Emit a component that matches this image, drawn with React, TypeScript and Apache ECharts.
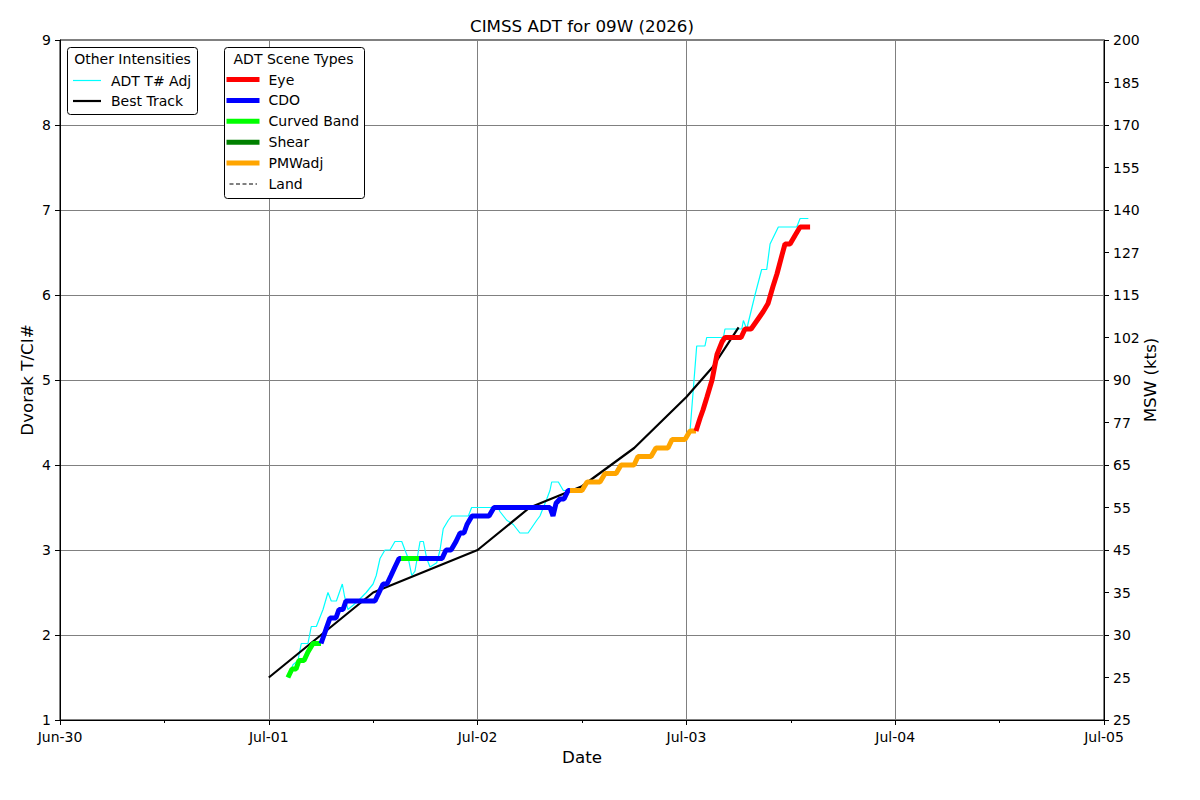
import React, { useEffect, useRef } from "react";
import * as echarts from "echarts";

// ---------- axis / tick data ----------
const DAY = 86400000;
const X_MIN = Date.UTC(2026, 5, 30);
const X_MAX = Date.UTC(2026, 6, 5);
const xTickLabels = ["Jun-30", "Jul-01", "Jul-02", "Jul-03", "Jul-04", "Jul-05"];
const mswTickValues = [1, 1.5, 2, 2.5, 3, 3.5, 4, 4.5, 5, 5.5, 6, 6.5, 7, 7.5, 8, 8.5, 9];
const mswTickLabels = ["25", "25", "30", "35", "45", "55", "65", "77", "90", "102", "115", "127", "140", "155", "170", "185", "200"];

// ---------- best track ----------
const btTimes = ["07-01 00:00", "07-01 06:00", "07-01 12:00", "07-01 18:00", "07-02 00:00", "07-02 06:00", "07-02 12:00", "07-02 18:00", "07-03 00:00", "07-03 03:00", "07-03 06:00"];
const btValues = [1.5, 2.0, 2.5, 2.75, 3.0, 3.5, 3.75, 4.2, 4.8, 5.15, 5.62];

// ---------- ADT final CI# with scene types ----------
const adtTimes = [
  "07-01 02:12", "07-01 02:40", "07-01 03:08", "07-01 03:28", "07-01 04:03", "07-01 04:30", "07-01 05:05", "07-01 05:39",
  "07-01 06:00", "07-01 06:21", "07-01 06:41", "07-01 07:02", "07-01 07:43", "07-01 08:04", "07-01 08:32", "07-01 08:52",
  "07-01 12:12", "07-01 12:40", "07-01 13:08", "07-01 13:35", "07-01 14:03", "07-01 14:30", "07-01 14:58",
  "07-01 15:12",
  "07-01 17:16", "07-01 19:55", "07-01 20:22", "07-01 20:57", "07-01 21:31", "07-01 21:59", "07-01 22:26", "07-01 22:47",
  "07-01 23:21", "07-02 01:19", "07-02 01:53", "07-02 08:19", "07-02 08:40", "07-02 09:01", "07-02 09:28", "07-02 09:56", "07-02 10:24",
  "07-02 10:37", "07-02 12:00", "07-02 12:35", "07-02 14:04", "07-02 14:39", "07-02 15:55", "07-02 16:29", "07-02 17:59",
  "07-02 18:26", "07-02 19:56", "07-02 20:30", "07-02 21:53", "07-02 22:21", "07-02 23:50", "07-03 00:25",
  "07-03 01:06", "07-03 01:34", "07-03 01:55", "07-03 02:22", "07-03 02:57", "07-03 03:31", "07-03 04:06", "07-03 04:26",
  "07-03 06:17", "07-03 06:44", "07-03 07:26", "07-03 08:07", "07-03 08:48", "07-03 09:23", "07-03 09:57", "07-03 10:25",
  "07-03 10:59", "07-03 11:20", "07-03 11:55", "07-03 12:29", "07-03 13:04", "07-03 14:13",
];
const adtValues = [
  1.5, 1.6, 1.6, 1.7, 1.7, 1.8, 1.9, 1.9,
  1.9, 2.0, 2.1, 2.2, 2.2, 2.3, 2.3, 2.4,
  2.4, 2.5, 2.6, 2.6, 2.7, 2.8, 2.9,
  2.9,
  2.9, 2.9, 3.0, 3.0, 3.1, 3.2, 3.2, 3.3,
  3.4, 3.4, 3.5, 3.5, 3.4, 3.55, 3.6, 3.6, 3.7,
  3.7, 3.7, 3.8, 3.8, 3.9, 3.9, 4.0, 4.0,
  4.1, 4.1, 4.2, 4.2, 4.3, 4.3, 4.4,
  4.4, 4.55, 4.65, 4.8, 5.0, 5.3, 5.45, 5.5,
  5.5, 5.6, 5.6, 5.7, 5.8, 5.9, 6.1, 6.25,
  6.47, 6.6, 6.6, 6.7, 6.8, 6.8,
];
const adtScenes = [
  "CB", "CB", "CB", "CB", "CB", "CB", "CB", "CB",
  "CDO", "CDO", "CDO", "CDO", "CDO", "CDO", "CDO", "CDO",
  "CDO", "CDO", "CDO", "CDO", "CDO", "CDO", "CDO",
  "CB",
  "CDO", "CDO", "CDO", "CDO", "CDO", "CDO", "CDO", "CDO",
  "CDO", "CDO", "CDO", "CDO", "CDO", "CDO", "CDO", "CDO", "CDO",
  "PMW", "PMW", "PMW", "PMW", "PMW", "PMW", "PMW", "PMW",
  "PMW", "PMW", "PMW", "PMW", "PMW", "PMW", "PMW",
  "EYE", "EYE", "EYE", "EYE", "EYE", "EYE", "EYE", "EYE",
  "EYE", "EYE", "EYE", "EYE", "EYE", "EYE", "EYE", "EYE",
  "EYE", "EYE", "EYE", "EYE", "EYE", "EYE",
];

// ---------- ADT T# Adj ----------
const tAdjTimes = [
  "07-01 02:12", "07-01 02:47", "07-01 03:21", "07-01 03:44", "07-01 04:30", "07-01 04:53", "07-01 05:28", "07-01 05:51",
  "07-01 06:14", "07-01 06:48", "07-01 07:11", "07-01 07:46", "07-01 08:27", "07-01 08:43", "07-01 09:06", "07-01 09:41",
  "07-01 10:15", "07-01 11:12", "07-01 11:59", "07-01 12:21", "07-01 12:47", "07-01 13:21", "07-01 13:56", "07-01 14:30",
  "07-01 15:17", "07-01 15:39", "07-01 16:02", "07-01 16:26", "07-01 16:48", "07-01 17:23", "07-01 17:46", "07-01 18:09",
  "07-01 18:32", "07-01 19:18", "07-01 19:41", "07-01 20:03", "07-01 20:38", "07-01 21:01", "07-01 22:56", "07-01 23:19",
  "07-02 02:21", "07-02 02:35", "07-02 03:21", "07-02 04:06", "07-02 04:52", "07-02 05:48", "07-02 06:48", "07-02 07:10",
  "07-02 07:57", "07-02 08:19", "07-02 08:31", "07-02 09:17", "07-02 09:51", "07-02 10:37",
  "07-02 12:00", "07-02 12:35", "07-02 14:04", "07-02 14:39", "07-02 15:55", "07-02 16:29", "07-02 17:59",
  "07-02 18:26", "07-02 19:56", "07-02 20:30", "07-02 21:53", "07-02 22:21", "07-02 23:50", "07-03 00:25",
  "07-03 01:11", "07-03 02:08", "07-03 02:20", "07-03 04:15", "07-03 04:26", "07-03 06:22", "07-03 06:33", "07-03 06:56",
  "07-03 07:53", "07-03 08:39", "07-03 09:14", "07-03 09:37", "07-03 10:34", "07-03 12:41", "07-03 13:04", "07-03 14:01",
];
const tAdjValues = [
  1.5, 1.65, 1.7, 1.9, 1.9, 2.1, 2.1, 2.2,
  2.3, 2.5, 2.4, 2.4, 2.6, 2.45, 2.3, 2.35,
  2.4, 2.5, 2.6, 2.7, 2.9, 3.0, 3.0, 3.1,
  3.1, 3.0, 2.9, 2.7, 2.75, 3.1, 3.1, 2.9,
  2.8, 2.85, 3.0, 3.25, 3.35, 3.4, 3.4, 3.5,
  3.5, 3.45, 3.35, 3.3, 3.2, 3.2, 3.35, 3.4,
  3.6, 3.7, 3.8, 3.8, 3.7, 3.7,
  3.7, 3.8, 3.8, 3.9, 3.9, 4.0, 4.0,
  4.1, 4.1, 4.2, 4.2, 4.3, 4.3, 4.4,
  5.4, 5.4, 5.5, 5.5, 5.6, 5.6, 5.7, 5.6,
  6.0, 6.3, 6.3, 6.6, 6.8, 6.8, 6.9, 6.9,
];

const sceneColors: Record<string, string> = {
  EYE: "#ff0000",
  CDO: "#0000ff",
  CB: "#00ff00",
  SHEAR: "#008000",
  PMW: "#ffa500",
};
const sceneNames: Record<string, string> = {
  EYE: "Eye",
  CDO: "CDO",
  CB: "Curved Band",
  SHEAR: "Shear",
  PMW: "PMWadj",
};

function t(s: string): number {
  const [md, hm] = s.split(" ");
  const [mo, d] = md.split("-").map(Number);
  const [h, mi] = hm.split(":").map(Number);
  return Date.UTC(2026, mo - 1, d, h, mi);
}

const FONT = "DejaVu Sans";

function buildOption() {
  const series: any[] = [];
  series.push({
    type: "line",
    name: "ADT T# Adj",
    data: tAdjTimes.map((s, i) => [t(s), tAdjValues[i]]),
    showSymbol: false,
    lineStyle: { color: "#00ffff", width: 1.2 },
    z: 2,
    yAxisIndex: 0,
  });
  series.push({
    type: "line",
    name: "Best Track",
    data: btTimes.map((s, i) => [t(s), btValues[i]]),
    showSymbol: false,
    lineStyle: { color: "#000000", width: 2.2 },
    z: 3,
    yAxisIndex: 0,
  });
  // scene-type segments
  let start = 0;
  for (let i = 1; i <= adtTimes.length; i++) {
    if (i === adtTimes.length || adtScenes[i] !== adtScenes[start]) {
      const end = Math.min(i, adtTimes.length - 1);
      const pts: number[][] = [];
      for (let k = start; k <= end; k++) pts.push([t(adtTimes[k]), adtValues[k]]);
      const sc = adtScenes[start];
      series.push({
        type: "line",
        name: sceneNames[sc],
        data: pts,
        showSymbol: false,
        lineStyle: { color: sceneColors[sc], width: 5 },
        z: 4,
        yAxisIndex: 0,
      });
      start = i;
    }
  }

  const legendFont = `14px "${FONT}"`;
  const L1 = { x: 67, y: 47, w: 130, h: 67 };
  const L2 = { x: 224, y: 47, w: 140, h: 151 };
  const sceneEntries = ["EYE", "CDO", "CB", "SHEAR", "PMW"];
  const graphics: any[] = [
    {
      type: "text",
      x: 582,
      y: 26,
      style: { text: "CIMSS ADT for 09W (2026)", font: `16.7px "${FONT}"`, fill: "#000", textAlign: "center", textVerticalAlign: "middle" },
    },
    {
      type: "rect",
      shape: { x: L1.x + 0.5, y: L1.y + 0.5, width: L1.w, height: L1.h, r: 3 },
      style: { fill: "#ffffff", stroke: "#000000", lineWidth: 1 },
      z: 100,
    },
    {
      type: "text",
      x: L1.x + L1.w / 2 + 0.5,
      y: 59,
      style: { text: "Other Intensities", font: legendFont, fill: "#000", textAlign: "center", textVerticalAlign: "middle" },
      z: 101,
    },
    { type: "line", shape: { x1: 73, y1: 80.5, x2: 101, y2: 80.5 }, style: { stroke: "#00ffff", lineWidth: 1.2 }, z: 101 },
    {
      type: "text",
      x: 111,
      y: 80.5,
      style: { text: "ADT T# Adj", font: legendFont, fill: "#000", textAlign: "left", textVerticalAlign: "middle" },
      z: 101,
    },
    { type: "line", shape: { x1: 73, y1: 101, x2: 101, y2: 101 }, style: { stroke: "#000000", lineWidth: 2.2 }, z: 101 },
    {
      type: "text",
      x: 111,
      y: 101,
      style: { text: "Best Track", font: legendFont, fill: "#000", textAlign: "left", textVerticalAlign: "middle" },
      z: 101,
    },
    {
      type: "rect",
      shape: { x: L2.x + 0.5, y: L2.y + 0.5, width: L2.w, height: L2.h, r: 3 },
      style: { fill: "#ffffff", stroke: "#000000", lineWidth: 1 },
      z: 100,
    },
    {
      type: "text",
      x: 293.5,
      y: 58.5,
      style: { text: "ADT Scene Types", font: legendFont, fill: "#000", textAlign: "center", textVerticalAlign: "middle" },
      z: 101,
    },
  ];
  sceneEntries.forEach((sc, i) => {
    const yy = 79.5 + i * 20.9;
    graphics.push({ type: "line", shape: { x1: 226.5, y1: yy, x2: 259.5, y2: yy }, style: { stroke: sceneColors[sc], lineWidth: 5 }, z: 101 });
    graphics.push({
      type: "text",
      x: 268.5,
      y: yy,
      style: { text: sceneNames[sc], font: legendFont, fill: "#000", textAlign: "left", textVerticalAlign: "middle" },
      z: 101,
    });
  });
  graphics.push({ type: "line", shape: { x1: 229.5, y1: 184, x2: 257, y2: 184 }, style: { stroke: "#000", lineWidth: 1, lineDash: [4, 2.5] }, z: 101 });
  graphics.push({
    type: "text",
    x: 268.5,
    y: 184,
    style: { text: "Land", font: legendFont, fill: "#000", textAlign: "left", textVerticalAlign: "middle" },
    z: 101,
  });

  const labelStyle = { color: "#000", fontFamily: FONT, fontSize: 14 };

  return {
    animation: false,
    backgroundColor: "#ffffff",
    grid: { left: 60, right: 96, top: 40, bottom: 80, show: true, borderColor: "#000", borderWidth: 1, containLabel: false },
    xAxis: {
      type: "value",
      min: X_MIN,
      max: X_MAX,
      interval: DAY,
      name: "Date",
      nameLocation: "middle",
      nameGap: 28,
      nameMoveOverlap: false,
      nameTextStyle: { color: "#000", fontFamily: FONT, fontSize: 16.7 },
      axisLine: { show: true, lineStyle: { color: "#000", width: 1 } },
      axisTick: { show: true, inside: false, length: 5, lineStyle: { color: "#000" } },
      minorTick: { show: true, splitNumber: 2, length: 3, lineStyle: { color: "#000" } },
      axisLabel: {
        ...labelStyle,
        margin: 10,
        formatter: (v: number) => xTickLabels[Math.round((v - X_MIN) / DAY)] ?? "",
      },
      splitLine: { show: true, lineStyle: { color: "#808080", width: 1 } },
    },
    yAxis: [
      {
        type: "value",
        min: 1,
        max: 9,
        interval: 1,
        position: "left",
        name: "Dvorak T/CI#",
        nameLocation: "middle",
        nameGap: 25,
        nameMoveOverlap: false,
        nameTextStyle: { color: "#000", fontFamily: FONT, fontSize: 16.7 },
        axisLine: { show: true, lineStyle: { color: "#000", width: 1 } },
        axisTick: { show: true, inside: false, length: 5, lineStyle: { color: "#000" } },
        axisLabel: { ...labelStyle, margin: 9 },
        splitLine: { show: true, lineStyle: { color: "#808080", width: 1 } },
      },
      {
        type: "value",
        min: 1,
        max: 9,
        interval: 0.5,
        position: "right",
        name: "MSW (kts)",
        nameLocation: "middle",
        nameGap: 37,
        nameMoveOverlap: false,
        nameTextStyle: { color: "#000", fontFamily: FONT, fontSize: 16.7 },
        axisLine: { show: true, lineStyle: { color: "#000", width: 1 } },
        axisTick: { show: true, inside: false, length: 5, lineStyle: { color: "#000" } },
        axisLabel: {
          ...labelStyle,
          margin: 9,
          formatter: (v: number) => {
            const idx = mswTickValues.findIndex((m) => Math.abs(m - v) < 1e-6);
            return idx >= 0 ? mswTickLabels[idx] : "";
          },
        },
        splitLine: { show: false },
      },
    ],
    series,
    graphic: graphics,
  };
}

export default function App() {
  const ref = useRef<HTMLDivElement>(null);
  useEffect(() => {
    if (!ref.current) return;
    const chart = echarts.init(ref.current, undefined, { renderer: "svg" });
    chart.setOption(buildOption() as any);
    return () => chart.dispose();
  }, []);
  return (
    <div
      ref={ref}
      style={{ position: "fixed", left: 0, top: 0, width: 1200, height: 800, background: "#fff" }}
    />
  );
}
